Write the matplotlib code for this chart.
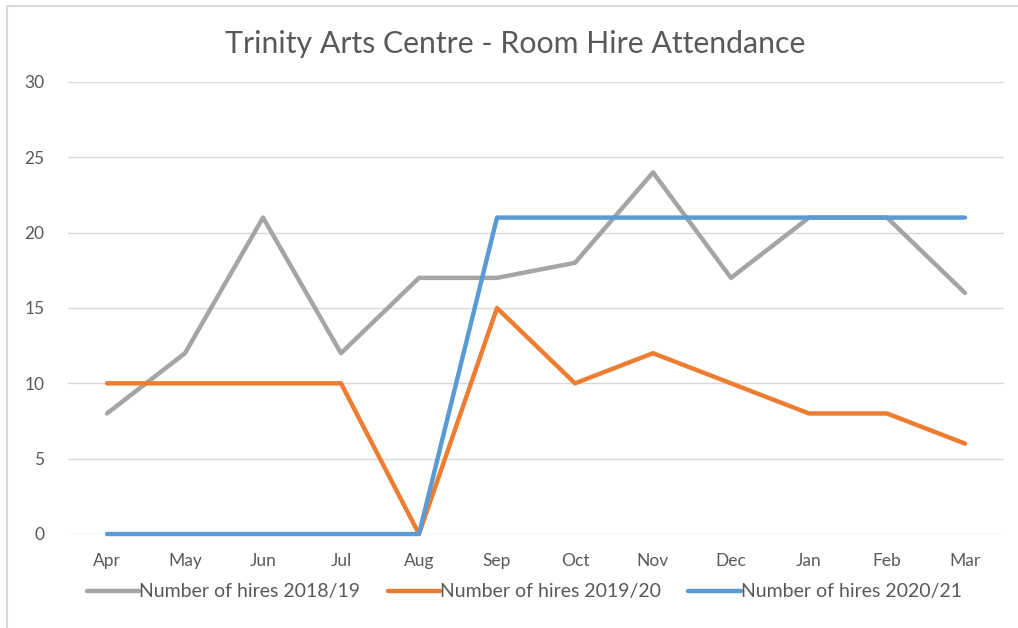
import numpy as np
import matplotlib.pyplot as plt
from matplotlib.patches import Rectangle

plt.rcParams['font.family'] = ['Lato', 'DejaVu Sans']

# ---- data ----
months = ['Apr', 'May', 'Jun', 'Jul', 'Aug', 'Sep', 'Oct', 'Nov', 'Dec', 'Jan', 'Feb', 'Mar']
hires_1819 = [8, 12, 21, 12, 17, 17, 18, 24, 17, 21, 21, 16]
hires_1920 = [10, 10, 10, 10, 0, 15, 10, 12, 10, 8, 8, 6]
hires_2021 = [0, 0, 0, 0, 0, 21, 21, 21, 21, 21, 21, 21]
labels = ['Number of hires 2018/19', 'Number of hires 2019/20', 'Number of hires 2020/21']
colors = ['#A5A5A5', '#ED7D31', '#5B9BD5']
txt = '#595959'

fig = plt.figure(figsize=(10.18, 6.28), dpi=100)
ax = fig.add_axes([68 / 1018, 1 - 534 / 628, (1004 - 68) / 1018, (534 - 82) / 628])

x = np.arange(len(months))
for ys, lab, c in zip([hires_1819, hires_1920, hires_2021], labels, colors):
    ax.plot(x, ys, color=c, lw=3.2, label=lab, solid_capstyle='round',
            solid_joinstyle='round', clip_on=False, zorder=3)

ax.set_xlim(-0.5, len(months) - 0.5)
ax.set_ylim(0, 30)
ax.set_yticks(range(0, 31, 5))
ax.set_xticks(x)
ax.set_xticklabels(months)
ax.tick_params(length=0, labelsize=12.5, colors=txt)
ax.tick_params(axis='y', pad=17)
ax.tick_params(axis='x', pad=14)
ax.grid(axis='y', color='#D9D9D9', lw=1)
ax.set_axisbelow(True)
for s in ax.spines.values():
    s.set_visible(False)

fig.text(0.506, 1 - 44 / 628, 'Trinity Arts Centre - Room Hire Attendance', ha='center', va='center',
         fontsize=21.8, color=txt)

ax.legend(loc='center', bbox_to_anchor=(0.515, 1 - 592 / 628), bbox_transform=fig.transFigure,
          ncol=3, frameon=False, fontsize=14, handlelength=2.7, handletextpad=0.0,
          columnspacing=1.4, labelcolor=txt)

# outer border like the screenshot
fig.patches.append(Rectangle((7 / 1018, -0.01), 1.1, 1 - 6 / 628 + 0.01, transform=fig.transFigure,
                             fill=False, edgecolor='#D9D9D9', lw=1.5))

fig.savefig('out.png', dpi=100)
